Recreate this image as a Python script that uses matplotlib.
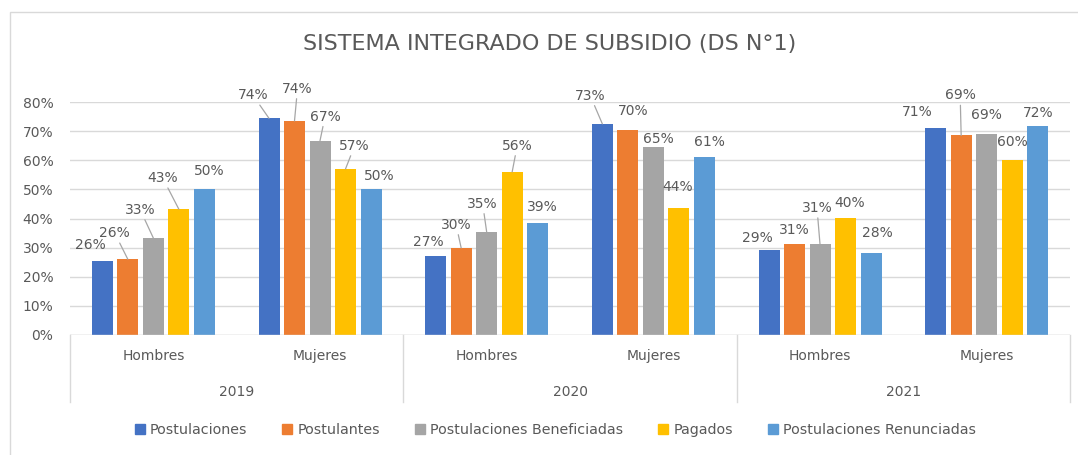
import matplotlib
matplotlib.use("Agg")
import matplotlib.pyplot as plt
from matplotlib.patches import Rectangle
from matplotlib.lines import Line2D
import numpy as np

plt.rcParams['font.family'] = ['DejaVu Sans']

# ---- data ----
years = ["2019", "2020", "2021"]
genders = ["Hombres", "Mujeres"]
series_names = ["Postulaciones", "Postulantes", "Postulaciones Beneficiadas",
                "Pagados", "Postulaciones Renunciadas"]
postulaciones = [25.5, 74.4, 27.1, 72.5, 29.2, 71.0]
postulantes = [26.0, 73.5, 29.9, 70.4, 31.2, 68.5]
beneficiadas = [33.3, 66.7, 35.4, 64.5, 31.2, 69.0]
pagados = [43.2, 57.0, 56.0, 43.6, 40.1, 60.1]
renunciadas = [50.0, 50.0, 38.6, 61.1, 28.2, 71.8]
labels_postulaciones = ["26%", "74%", "27%", "73%", "29%", "71%"]
labels_postulantes = ["26%", "74%", "30%", "70%", "31%", "69%"]
labels_beneficiadas = ["33%", "67%", "35%", "65%", "31%", "69%"]
labels_pagados = ["43%", "57%", "56%", "44%", "40%", "60%"]
labels_renunciadas = ["50%", "50%", "39%", "61%", "28%", "72%"]
yticks = [0, 10, 20, 30, 40, 50, 60, 70, 80]

values = [postulaciones, postulantes, beneficiadas, pagados, renunciadas]
labels = [labels_postulaciones, labels_postulantes, labels_beneficiadas,
          labels_pagados, labels_renunciadas]

# ---- styling ----
colors = ["#4472C4", "#ED7D31", "#A5A5A5", "#FFC000", "#5B9BD5"]
text_col = "#595959"
grid_col = "#D9D9D9"
lead_col = "#A6A6A6"

# label offsets in pixels (dx, dy above bar top) and leader flags, per series, per category
offsets = [
    [(-12, 16), (-16, 23), (-7, 14), (-12, 28), (-12, 12), (-18, 16)],
    [(-13, 26), (3, 32), (-5, 23), (5, 19), (0, 14), (-1, 40)],
    [(-13, 28), (5, 24), (-4, 28), (5, 8), (-3, 36), (0, 19)],
    [(-16, 31), (9, 23), (5, 26), (-1, 21), (4, 15), (0, 18)],
    [(5, 18), (8, 13), (5, 16), (5, 15), (6, 20), (1, 13)],
]
leaders = [
    [False, True, False, True, False, False],
    [True, True, True, False, False, True],
    [True, True, True, False, True, False],
    [True, True, True, False, False, False],
    [False, False, False, False, False, False],
]

W, H = 1078, 455
fig = plt.figure(figsize=(W / 100, H / 100), dpi=100)
fig.patch.set_facecolor("white")

# outer chart frame (only left/top visible in crop)
fig.add_artist(Rectangle((10 / W, -0.1), 1.2, 1 - 12 / H + 0.1, transform=fig.transFigure,
                         fill=False, edgecolor="#D9D9D9", linewidth=1.0))

ax = fig.add_axes([70 / W, 1 - 335 / H, 1000 / W, 233 / H])
n_cat = len(years) * len(genders)
x = np.arange(n_cat)
step = 0.153
width = 0.126

for i, (vals, col) in enumerate(zip(values, colors)):
    xs = x + (i - 2) * step
    ax.bar(xs, vals, width=width, color=col, zorder=3, label=series_names[i])
    for j in range(n_cat):
        dx, dy = offsets[i][j]
        ap = None
        if leaders[i][j]:
            ap = dict(arrowstyle="-", color=lead_col, lw=0.9, shrinkA=0, shrinkB=0)
        ax.annotate(labels[i][j], xy=(xs[j], vals[j]), xytext=(dx, dy),
                    textcoords="offset pixels", ha="center", va="center",
                    fontsize=10, color=text_col, arrowprops=ap, zorder=5,
                    annotation_clip=False)

ax.set_xlim(-0.5, n_cat - 0.5)
ax.set_ylim(0, 80)
ax.set_yticks(yticks)
ax.set_yticklabels([f"{t}%" for t in yticks])
ax.tick_params(axis="y", length=0, pad=12, labelsize=10, labelcolor=text_col)
ax.set_xticks([])
ax.grid(axis="y", color=grid_col, linewidth=1, zorder=0)
for s in ax.spines.values():
    s.set_visible(False)
ax.axhline(0, color=grid_col, linewidth=1, zorder=4)

# two-level category axis
trans = ax.get_xaxis_transform()
bottom = -67 / 233
for b in [-0.5, 1.5, 3.5, 5.5]:
    ax.plot([b, b], [0, bottom], transform=trans, color=grid_col, lw=1, clip_on=False)
for j in range(n_cat):
    ax.text(j, -21 / 233, genders[j % 2], transform=trans, ha="center", va="center",
            fontsize=10, color=text_col)
for k, yr in enumerate(years):
    ax.text(2 * k + 0.5, -57 / 233, yr, transform=trans, ha="center", va="center",
            fontsize=10, color=text_col)

fig.text(550 / W, 1 - 44 / H, "SISTEMA INTEGRADO DE SUBSIDIO (DS N°1)", ha="center",
         va="center", fontsize=16, color=text_col)

handles = [Line2D([0], [0], marker="s", linestyle="", markersize=7,
                  markerfacecolor=c, markeredgecolor=c) for c in colors]
fig.legend(handles, series_names, loc="center", bbox_to_anchor=(555 / W, 1 - 430 / H),
           ncol=5, frameon=False, fontsize=10.3, labelcolor=text_col,
           handletextpad=0.3, columnspacing=2.4, handlelength=0.8)

fig.savefig("out.png", dpi=100, facecolor="white")
